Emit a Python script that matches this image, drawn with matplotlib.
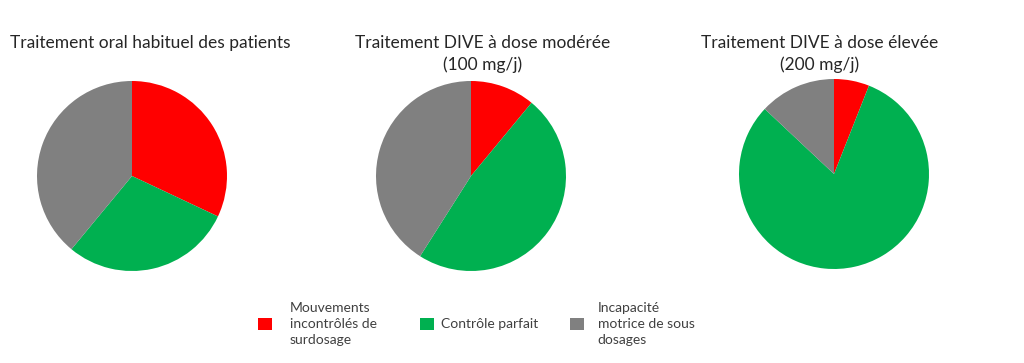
import matplotlib.pyplot as plt
from matplotlib.patches import Patch

plt.rcParams['font.family'] = ['Lato', 'DejaVu Sans']

categories = ["Mouvements\nincontrôlés de\nsurdosage", "Contrôle parfait",
              "Incapacité\nmotrice de sous\ndosages"]
colours = ['#ff0000', '#00b050', '#808080']

titles = ["Traitement oral habituel des patients",
          "Traitement DIVE à dose modérée\n(100 mg/j)",
          "Traitement DIVE à dose élevée\n(200 mg/j)"]
oral = [32, 29, 39]
dive_100 = [11, 48, 41]
dive_200 = [6, 81, 13]
series = [oral, dive_100, dive_200]

W, H = 1024, 363
fig = plt.figure(figsize=(W / 100, H / 100), dpi=100)

# pie centres in pixels (x, y from top), radius in pixels
centres = [(132, 176), (471, 176), (834, 174)]
r = 95
title_pos = [(150, 43), (483, 54), (820, 54)]

for vals, (cx, cy), title, (tx, ty) in zip(series, centres, titles, title_pos):
    ax = fig.add_axes([(cx - r) / W, (H - cy - r) / H, 2 * r / W, 2 * r / H])
    ax.pie(vals, colors=colours, startangle=90, counterclock=False,
           wedgeprops=dict(linewidth=0))
    ax.set_xlim(-1, 1)
    ax.set_ylim(-1, 1)
    ax.set_aspect('equal')
    fig.text(tx / W, 1 - ty / H, title, ha='center', va='center',
             fontsize=12.5, color='#262626', linespacing=1.35)

# one legend per entry so that each sits where it does in the original
legend_x = [258, 420, 570]
text_pad = [1.3, 0.5, 1.0]
for colour, label, lx, pad in zip(colours, categories, legend_x, text_pad):
    leg = fig.legend([Patch(facecolor=colour, edgecolor='none')], [label],
                     loc='center left', bbox_to_anchor=(lx / W, 1 - 324 / H),
                     frameon=False, fontsize=10, handlelength=1.0, handleheight=1.0,
                     handletextpad=pad, borderpad=0, borderaxespad=0,
                     labelcolor='#404040')
    for t in leg.get_texts():
        t.set_linespacing(1.35)

fig.savefig('out.png', dpi=100)
